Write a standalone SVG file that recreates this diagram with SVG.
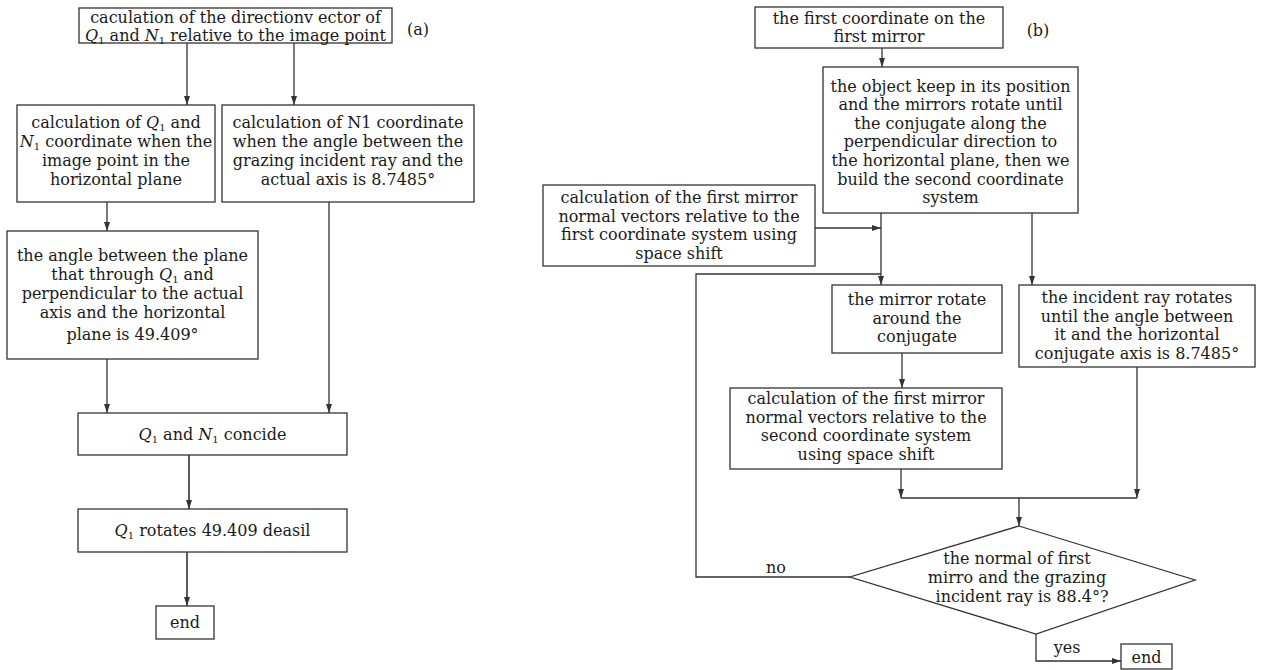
<svg xmlns="http://www.w3.org/2000/svg" width="1261" height="670" viewBox="0 0 1261 670">
<style>
.box{fill:#fff;stroke:#333;stroke-width:1.3}
.t{font-family:"DejaVu Serif","Liberation Serif",serif;font-size:16px;fill:#1a1a1a;text-anchor:middle}
.i{font-style:italic}
.s{font-size:10px}
.c{fill:none;stroke:#333;stroke-width:1.3}
.a{marker-end:url(#ah)}
</style>
<defs>
<marker id="ah" markerUnits="userSpaceOnUse" markerWidth="9" markerHeight="6" refX="9" refY="3" orient="auto">
<path d="M0,0 L9,3 L0,6 z" fill="#333"/>
</marker>
</defs>
<rect width="1261" height="670" fill="#fff"/>
<g id="connectors">
<line class="c a" x1="187" y1="43" x2="187" y2="105"/>
<line class="c a" x1="294" y1="43" x2="294" y2="105"/>
<line class="c a" x1="107" y1="202" x2="107" y2="231"/>
<line class="c a" x1="107" y1="359" x2="107" y2="413"/>
<line class="c a" x1="329" y1="202" x2="329" y2="413"/>
<line class="c a" x1="189" y1="455" x2="189" y2="509" style="stroke-width:1.6"/>
<line class="c a" x1="187" y1="552" x2="187" y2="606" style="stroke-width:1.6"/>
<line class="c a" x1="882" y1="48" x2="882" y2="67"/>
<line class="c a" x1="815" y1="228" x2="881" y2="228"/>
<line class="c a" x1="881" y1="213" x2="881" y2="285"/>
<polyline class="c" points="850,577 696,577 696,274 881,274"/>
<line class="c a" x1="1032" y1="213" x2="1032" y2="285"/>
<line class="c a" x1="902" y1="353" x2="902" y2="388"/>
<line class="c a" x1="901" y1="469" x2="901" y2="498"/>
<line class="c a" x1="1137" y1="367" x2="1137" y2="498"/>
<line class="c" x1="901" y1="498" x2="1137" y2="498"/>
<line class="c a" x1="1019" y1="498" x2="1019" y2="526"/>
<polyline class="c a" points="1036,634 1036,661 1121,661"/>
<text class="t" x="776" y="573">no</text>
<text class="t" x="1067" y="653">yes</text>
</g>
<g id="a_label"><text class="t" x="418" y="35">(a)</text></g>
<g id="b_label"><text class="t" x="1038" y="36">(b)</text></g>
<g id="a_top">
<rect class="box" x="79" y="8" width="313" height="35"/>
<text class="t" x="235.5" y="23">caculation of the directionv ector of</text>
<text class="t" x="235.5" y="41"><tspan class="i">Q</tspan><tspan class="s" dy="3">1</tspan><tspan dy="-3"> and </tspan><tspan class="i">N</tspan><tspan class="s" dy="3">1</tspan><tspan dy="-3"> relative to the image point</tspan></text>
</g>
<g id="a_q1n1">
<rect class="box" x="17" y="105" width="198" height="97"/>
<text class="t" x="116" y="128">calculation of <tspan class="i">Q</tspan><tspan class="s" dy="3">1</tspan><tspan dy="-3"> and</tspan></text>
<text class="t" x="116" y="147"><tspan class="i">N</tspan><tspan class="s" dy="3">1</tspan><tspan dy="-3"> coordinate when the</tspan></text>
<text class="t" x="116" y="166">image point in the</text>
<text class="t" x="116" y="185">horizontal plane</text>
</g>
<g id="a_n1">
<rect class="box" x="222" y="105" width="252" height="97"/>
<text class="t" x="348" y="128">calculation of N1 coordinate</text>
<text class="t" x="348" y="147">when the angle between the</text>
<text class="t" x="348" y="166">grazing incident ray and the</text>
<text class="t" x="348" y="185">actual axis is 8.7485°</text>
</g>
<g id="a_angle">
<rect class="box" x="7" y="231" width="251" height="128"/>
<text class="t" x="132.5" y="261">the angle between the plane</text>
<text class="t" x="132.5" y="280">that through <tspan class="i">Q</tspan><tspan class="s" dy="3">1</tspan><tspan dy="-3"> and</tspan></text>
<text class="t" x="132.5" y="299">perpendicular to the actual</text>
<text class="t" x="132.5" y="318">axis and the horizontal</text>
<text class="t" x="132.5" y="340">plane is 49.409°</text>
</g>
<g id="a_coincide">
<rect class="box" x="78" y="413" width="269" height="42"/>
<text class="t" x="212.5" y="440"><tspan class="i">Q</tspan><tspan class="s" dy="3">1</tspan><tspan dy="-3"> and </tspan><tspan class="i">N</tspan><tspan class="s" dy="3">1</tspan><tspan dy="-3"> concide</tspan></text>
</g>
<g id="a_rotate">
<rect class="box" x="78" y="509" width="269" height="43"/>
<text class="t" x="212.5" y="536"><tspan class="i">Q</tspan><tspan class="s" dy="3">1</tspan><tspan dy="-3"> rotates 49.409 deasil</tspan></text>
</g>
<g id="a_end">
<rect class="box" x="156" y="606" width="58" height="33"/>
<text class="t" x="185" y="628">end</text>
</g>
<g id="b_first">
<rect class="box" x="755" y="7" width="248" height="41"/>
<text class="t" x="879" y="23.5">the first coordinate on the</text>
<text class="t" x="879" y="42.1">first mirror</text>
</g>
<g id="b_object">
<rect class="box" x="823" y="67" width="255" height="146"/>
<text class="t" x="950.5" y="91.5">the object keep in its position</text>
<text class="t" x="950.5" y="110.1">and the mirrors rotate until</text>
<text class="t" x="950.5" y="128.7">the conjugate along the</text>
<text class="t" x="950.5" y="147.3">perpendicular direction to</text>
<text class="t" x="950.5" y="165.9">the horizontal plane, then we</text>
<text class="t" x="950.5" y="184.5">build the second coordinate</text>
<text class="t" x="950.5" y="203.1">system</text>
</g>
<g id="b_first_normal">
<rect class="box" x="543" y="185" width="272" height="81"/>
<text class="t" x="679" y="203">calculation of the first mirror</text>
<text class="t" x="679" y="221.6">normal vectors relative to the</text>
<text class="t" x="679" y="240.2">first coordinate system using</text>
<text class="t" x="679" y="258.8">space shift</text>
</g>
<g id="b_mirror_rotate">
<rect class="box" x="832" y="285" width="170" height="68"/>
<text class="t" x="917" y="305">the mirror rotate</text>
<text class="t" x="917" y="323.6">around the</text>
<text class="t" x="917" y="342.2">conjugate</text>
</g>
<g id="b_incident">
<rect class="box" x="1019" y="285" width="236" height="82"/>
<text class="t" x="1137" y="303">the incident ray rotates</text>
<text class="t" x="1137" y="321.6">until the angle between</text>
<text class="t" x="1137" y="340.2">it and the horizontal</text>
<text class="t" x="1137" y="358.8">conjugate axis is 8.7485°</text>
</g>
<g id="b_second_normal">
<rect class="box" x="730" y="388" width="272" height="81"/>
<text class="t" x="866" y="404">calculation of the first mirror</text>
<text class="t" x="866" y="422.6">normal vectors relative to the</text>
<text class="t" x="866" y="441.2">second coordinate system</text>
<text class="t" x="866" y="459.8">using space shift</text>
</g>
<g id="b_decision">
<polygon class="box" points="1019,526 1195,580 1036,634 850,577"/>
<text class="t" x="1017" y="564">the normal of first</text>
<text class="t" x="1017" y="583">mirro and the grazing</text>
<text class="t" x="1022" y="602">incident ray is 88.4°?</text>
</g>
<g id="b_end">
<rect class="box" x="1121" y="644" width="51" height="25"/>
<text class="t" x="1146.5" y="663">end</text>
</g>
</svg>
